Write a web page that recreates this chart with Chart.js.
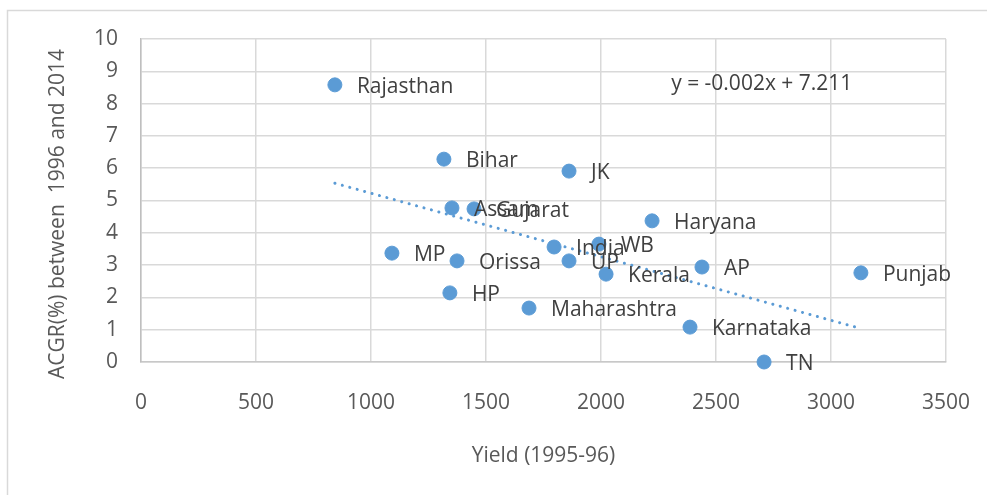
<!DOCTYPE html>
<html>
<head>
<meta charset="utf-8">
<script src="https://cdn.jsdelivr.net/npm/chart.js@4"></script>
<style>
  html, body { margin: 0; padding: 0; background: #ffffff; }
  #wrap { width: 987px; height: 495px; position: relative; }
</style>
</head>
<body>
<div id="wrap"><canvas id="c" width="987" height="495"></canvas></div>
<script>
// ---- Data ----
const states = ["Rajasthan","Bihar","JK","Assam","Gujarat","Haryana","MP","Orissa","India","WB","UP","Kerala","AP","Punjab","HP","Maharashtra","Karnataka","TN"];
const yield9596 = [843, 1317, 1861, 1352, 1448, 2222, 1091, 1374, 1796, 1991, 1861, 2022, 2439, 3130, 1343, 1687, 2387, 2709];
const acgr = [8.58, 6.28, 5.91, 4.77, 4.74, 4.37, 3.37, 3.13, 3.56, 3.65, 3.13, 2.72, 2.94, 2.76, 2.14, 1.67, 1.08, 0];
const xTicks = [0, 500, 1000, 1500, 2000, 2500, 3000, 3500];
const yTicks = [0, 1, 2, 3, 4, 5, 6, 7, 8, 9, 10];
const equationText = "y = -0.002x + 7.211";
const xTitle = "Yield (1995-96)";
const yTitle = "ACGR(%) between  1996 and 2014";

// ---- Linear trendline (least squares, as the spreadsheet does) ----
const n = yield9596.length;
const mx = yield9596.reduce((a, b) => a + b, 0) / n;
const my = acgr.reduce((a, b) => a + b, 0) / n;
let sxy = 0, sxx = 0;
for (let i = 0; i < n; i++) { sxy += (yield9596[i] - mx) * (acgr[i] - my); sxx += (yield9596[i] - mx) ** 2; }
const slope = sxy / sxx, intercept = my - slope * mx;
const xMin = Math.min(...yield9596), xMax = Math.max(...yield9596);
const trend = [{x: xMin, y: intercept + slope * xMin}, {x: xMax, y: intercept + slope * xMax}];

const points = yield9596.map((x, i) => ({x, y: acgr[i]}));

const FONT = "'Open Sans', 'DejaVu Sans', sans-serif";
const BLUE = "#5B9BD5";

const decorPlugin = {
  id: 'decor',
  beforeDraw(chart) {
    const ctx = chart.ctx;
    ctx.save();
    ctx.strokeStyle = '#d9d9d9';
    ctx.lineWidth = 1.5;
    ctx.beginPath();
    ctx.moveTo(7.5, 495);
    ctx.lineTo(7.5, 10.5);
    ctx.lineTo(987, 10.5);
    ctx.stroke();
    ctx.restore();
  },
  afterDatasetsDraw(chart) {
    const ctx = chart.ctx;
    const meta = chart.getDatasetMeta(0);
    ctx.save();
    ctx.font = "21px " + FONT;
    ctx.fillStyle = '#404040';
    ctx.textAlign = 'left';
    ctx.textBaseline = 'alphabetic';
    meta.data.forEach((el, i) => {
      ctx.fillText(states[i], el.x + 22, el.y + 8);
    });
    // trendline equation
    const xs = chart.scales.x, ys = chart.scales.y;
    ctx.fillText(equationText, xs.getPixelForValue(2305), ys.getPixelForValue(8.43));
    // y axis title
    ctx.translate(58, 214);
    ctx.rotate(-Math.PI / 2);
    ctx.textAlign = 'center';
    ctx.textBaseline = 'middle';
    ctx.fillStyle = '#595959';
    ctx.fillText(yTitle, 0, 0);
    ctx.restore();
  }
};

new Chart(document.getElementById('c'), {
  type: 'scatter',
  data: {
    datasets: [
      {
        label: 'ACGR',
        data: points,
        backgroundColor: BLUE,
        borderColor: BLUE,
        pointRadius: 7,
        pointBorderWidth: 1,
        pointHoverRadius: 7,
        clip: false,
        order: 1
      },
      {
        label: 'Linear trend',
        type: 'line',
        data: trend,
        borderColor: BLUE,
        borderWidth: 3,
        borderDash: [0.1, 7.6],
        borderCapStyle: 'round',
        pointRadius: 0,
        fill: false,
        order: 0
      }
    ]
  },
  options: {
    responsive: false,
    animation: false,
    devicePixelRatio: 1,
    layout: { padding: { left: 8, top: 39, right: 41, bottom: 0 } },
    plugins: { legend: { display: false }, tooltip: { enabled: false } },
    scales: {
      x: {
        type: 'linear',
        min: 0, max: 3500,
        afterBuildTicks: s => { s.ticks = xTicks.map(v => ({value: v})); },
        afterFit: s => { s.height = 133; s.paddingLeft = 0; s.paddingRight = 0; },
        grid: { color: '#d9d9d9', lineWidth: 1.5, drawTicks: false },
        border: { color: '#c8c8c8', width: 1.5 },
        ticks: { color: '#595959', font: { family: FONT, size: 21 }, padding: 28, maxRotation: 0, callback: v => String(v) },
        title: { display: true, text: xTitle, color: '#595959', font: { family: FONT, size: 21 }, padding: { top: 0, bottom: 26 } }
      },
      y: {
        type: 'linear',
        min: 0, max: 10,
        afterBuildTicks: s => { s.ticks = yTicks.map(v => ({value: v})); },
        afterFit: s => { s.width = 133; s.paddingTop = 0; s.paddingBottom = 0; },
        grid: { color: '#d9d9d9', lineWidth: 1.5, drawTicks: false },
        border: { color: '#bfbfbf', width: 1.5 },
        ticks: { color: '#595959', font: { family: FONT, size: 21 }, padding: 23, callback: v => String(v) }
      }
    }
  },
  plugins: [decorPlugin]
});
</script>
</body>
</html>
